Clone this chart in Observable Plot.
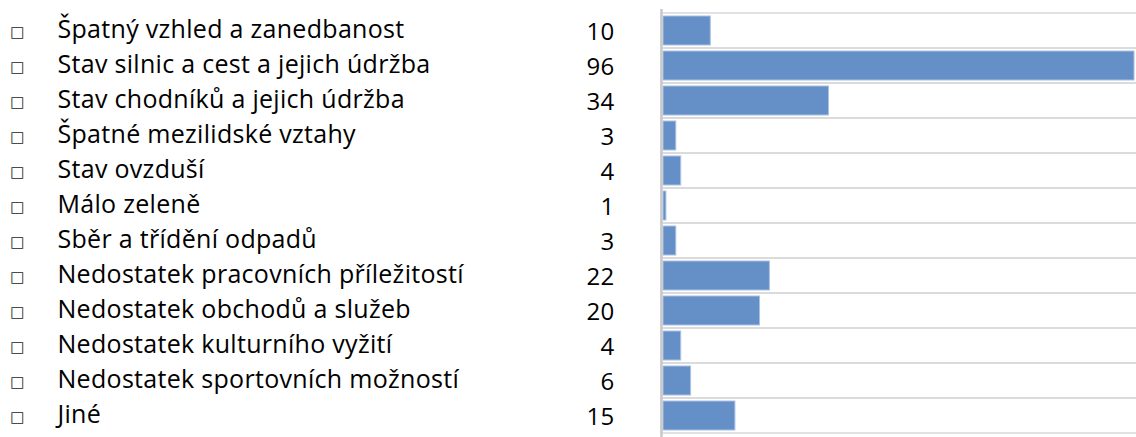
<!DOCTYPE html>
<html><head><meta charset="utf-8">
<script src="https://cdn.jsdelivr.net/npm/d3@7"></script>
<script src="https://cdn.jsdelivr.net/npm/@observablehq/plot@0.6"></script>
<style>body{margin:0;background:#fff;overflow:hidden}</style>
</head><body><div id="chart"></div>
<script>
const categories = [
  "Špatný vzhled a zanedbanost",
  "Stav silnic a cest a jejich údržba",
  "Stav chodníků a jejich údržba",
  "Špatné mezilidské vztahy",
  "Stav ovzduší",
  "Málo zeleně",
  "Sběr a třídění odpadů",
  "Nedostatek pracovních příležitostí",
  "Nedostatek obchodů a služeb",
  "Nedostatek kulturního vyžití",
  "Nedostatek sportovních možností",
  "Jiné"
];
const values = [10, 96, 34, 3, 4, 1, 3, 22, 20, 4, 6, 15];
const data = categories.map((c, i) => ({category: c, value: values[i]}));

const chart = Plot.plot({
  width: 1136, height: 437,
  marginLeft: 661, marginRight: 2, marginTop: 9, marginBottom: 0,
  x: {domain: [0, 96], axis: null},
  y: {domain: categories, axis: null, padding: 0},
  style: {fontFamily: "'Open Sans', sans-serif", background: "#fff", letterSpacing: "0.3px"},
  marks: [
    Plot.barX(data, {x1: 0, x2: 200, y: "category", fill: "none", stroke: "#d9d9d9", strokeWidth: 1.5}),
    Plot.barX(data, {x: "value", y: "category", fill: "#648fc7", stroke: "#a9c2e4", strokeWidth: 1, insetTop: 3, insetBottom: 3, insetLeft: 2}),
    Plot.ruleX([0], {stroke: "#c9c9c9", strokeWidth: 2.5}),
    Plot.text(data, {y: "category", text: () => "□", frameAnchor: "left", dx: -644, dy: 1, textAnchor: "middle", fontSize: 15, fontFamily: "DejaVu Sans", fill: "#222"}),
    Plot.text(data, {y: "category", text: "category", frameAnchor: "left", dx: -604, dy: -1, textAnchor: "start", fontSize: 25, fill: "#000"}),
    Plot.text(data, {y: "category", text: d => String(d.value), frameAnchor: "left", dx: -47, dy: 1, textAnchor: "end", fontSize: 24, fill: "#000"})
  ]
});
document.getElementById("chart").append(chart);
</script>
</body></html>
